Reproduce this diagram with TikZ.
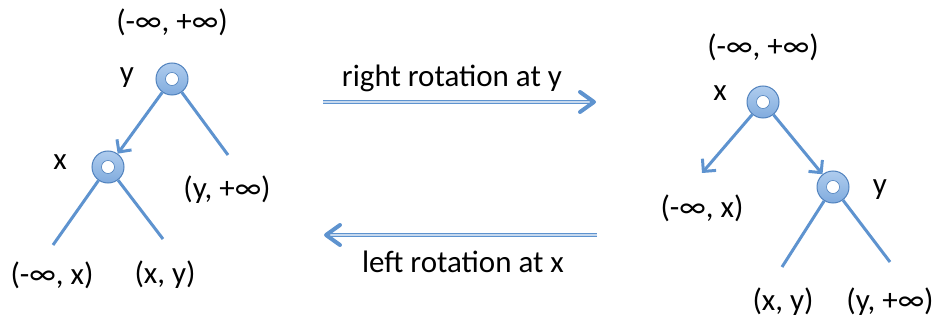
\documentclass[tikz,border=0pt]{standalone}
\usepackage{fontspec}
\setmainfont{Carlito}
\usetikzlibrary{arrows.meta, calc}
\definecolor{edgeblue}{HTML}{5E93CF}
\definecolor{nodeblue}{HTML}{8DB6E6}
\definecolor{nodeline}{HTML}{4F81BD}
\begin{document}
\begin{tikzpicture}[x=1pt, y=-1pt,
    every node/.style={font=\fontsize{31}{36}\selectfont, inner sep=0pt},
    treenode/.style={circle, minimum size=32pt, top color=nodeblue!70!white, bottom color=nodeblue!80!nodeline,
        draw=nodeline, line width=1pt,
        path picture={\fill[white] (path picture bounding box.center) circle (6.5pt);
                      \draw[nodeline, line width=0.6pt] (path picture bounding box.center) circle (6.5pt);}},
    edge/.style={draw=edgeblue, line width=3pt},
    arr/.style={edge, -{Straight Barb[length=9pt, width=18pt, line width=3pt]}},
    rot/.style={draw=edgeblue, double=edgeblue!35, double distance=1.6pt, line width=1.1pt},
    rottip/.style={draw=edgeblue, line width=4pt, line cap=round, line join=round}]
    \useasboundingbox (0,0) rectangle (939,323);

    % Left tree (before the right rotation)
    \node at (172, 22) (ltop) {(-∞, +∞)};
    \node[treenode] at (172, 79) (ly) {};
    \node[treenode] at (108, 167) (lx) {};
    \node at (127, 78) (lylab) {y};
    \node at (60, 162) (lxlab) {x};
    \node at (227, 190) (lyr) {(y, +∞)};
    \node at (52, 275) (lxl) {(-∞, x)};
    \node at (165, 275) (lxr) {(x, y)};
    \coordinate (lyrend) at (228, 155);
    \coordinate (lxlend) at (53, 245);
    \coordinate (lxrend) at (163, 239);

    \draw[arr] (ly) -- (lx);
    \draw[edge] (ly) -- (lyrend);
    \draw[edge] (lx) -- (lxlend);
    \draw[edge] (lx) -- (lxrend);

    % Rotation arrows
    \coordinate (ra) at (323, 102);
    \coordinate (rb) at (594, 102);
    \coordinate (la) at (597, 235);
    \coordinate (lb) at (326, 235);
    \draw[rot] (ra) -- (rb);
    \draw[rottip] ($(rb)+(-14,-10)$) -- (rb) -- ($(rb)+(-14,10)$);
    \node at (452, 78) (rlab) {right rotation at y};
    \draw[rot] (la) -- (lb);
    \draw[rottip] ($(lb)+(14,-10)$) -- (lb) -- ($(lb)+(14,10)$);
    \node at (463, 262) (llab) {left rotation at x};

    % Right tree (after the right rotation)
    \node at (763, 47) (rtop) {(-∞, +∞)};
    \node[treenode] at (763, 102) (rx) {};
    \node[treenode] at (833, 187) (ry) {};
    \node at (720, 93) (rxlab) {x};
    \node at (880, 190) (rylab) {y};
    \node at (702, 208) (rxl) {(-∞, x)};
    \node at (783, 302) (ryl) {(x, y)};
    \node at (890, 302) (ryr) {(y, +∞)};
    \coordinate (rxlend) at (702, 173);
    \coordinate (rylend) at (782, 267);
    \coordinate (ryrend) at (890, 262);

    \draw[arr] (rx) -- (rxlend);
    \draw[arr] (rx) -- (ry);
    \draw[edge] (ry) -- (rylend);
    \draw[edge] (ry) -- (ryrend);
\end{tikzpicture}
\end{document}
